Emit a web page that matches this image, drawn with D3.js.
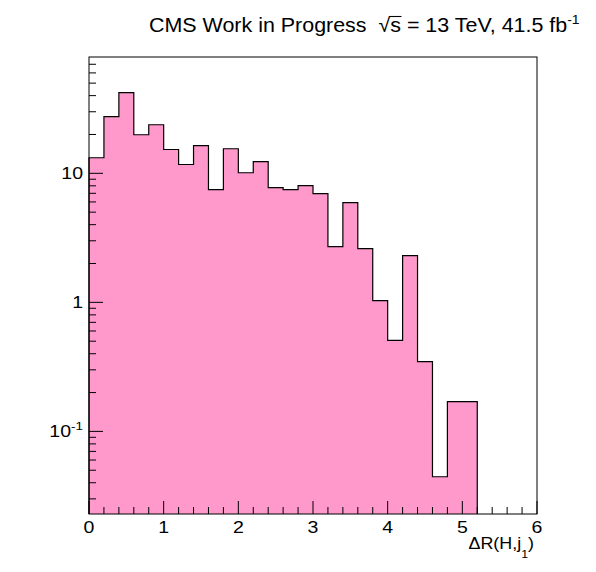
<!DOCTYPE html>
<html>
<head>
<meta charset="utf-8">
<script src="https://cdn.jsdelivr.net/npm/d3@7"></script>
<style>
  html, body { margin: 0; padding: 0; background: #fff; }
  svg { display: block; font-family: "Liberation Sans", Arial, Helvetica, sans-serif; }
  text { white-space: pre; }
</style>
</head>
<body>
<svg id="chart" width="596" height="572"></svg>
<script>
// ---- data ----
const binEdgesStart = 0;
const binWidth = 0.2;
const binCounts = [13.2, 27.5, 42.2, 19.9, 23.8, 15.3, 11.7, 16.4, 7.47, 15.5,
                   10.1, 12.3, 7.75, 7.47, 8.03, 6.96, 2.70, 5.93, 2.61, 1.03,
                   0.507, 2.30, 0.347, 0.0445, 0.170, 0.170, 0, 0, 0, 0];
const xTicks = [0, 1, 2, 3, 4, 5, 6];
const yMajorTicks = [0.1, 1, 10];
const yTickLabels = [["10", "-1"], ["1", null], ["10", null]];
const xDomain = [0, 6];
const yDomain = [0.0229, 79.7];
const titleMain = "CMS Work in Progress  ";
const titleRest = " = 13 TeV, 41.5 fb";
const xTitle = "ΔR(H,j";

// ---- layout ----
const L = 89, R = 537, T = 57, B = 514;
const GLYPH_SX = 1.22;   // reference font is wider than Liberation Sans
const svg = d3.select("#chart");
const x = d3.scaleLinear().domain(xDomain).range([L, R]);
const y = d3.scaleLog().domain(yDomain).range([B, T]);

const bins = binCounts.map((v, i) => ({
  x0: binEdgesStart + i * binWidth,
  x1: binEdgesStart + (i + 1) * binWidth,
  v
}));
const lastFilled = d3.max(bins.filter(b => b.v > 0), b => b.x1);
const yv = v => v > 0 ? Math.min(B, y(v)) : B;

let steps = "";
bins.forEach(b => {
  if (b.x0 >= lastFilled) return;
  steps += `L${x(b.x0)},${yv(b.v)}L${x(b.x1)},${yv(b.v)}`;
});
svg.append("path").attr("d", `M${x(0)},${B}${steps}L${x(lastFilled)},${B}Z`)
  .attr("fill", "#ff99cc").attr("stroke", "none");
svg.append("path").attr("d", `M${x(0)},${B}${steps}L${x(lastFilled)},${B}`)
  .attr("fill", "none").attr("stroke", "#000").attr("stroke-width", 1.2);

// frame
svg.append("rect").attr("x", L).attr("y", T).attr("width", R - L).attr("height", B - T)
  .attr("fill", "none").attr("stroke", "#000").attr("stroke-width", 1);

// helper: text group scaled horizontally about its anchor
function label(px, py, sx) {
  return svg.append("g").attr("transform", `translate(${px},${py}) scale(${sx},1)`)
    .append("text").attr("x", 0).attr("y", 0);
}

// x ticks
const xMinor = d3.range(0, 6.0001, 0.2);
svg.append("g").selectAll("line").data(xMinor).join("line")
  .attr("x1", d => x(d)).attr("x2", d => x(d))
  .attr("y1", B).attr("y2", d => Math.abs(d - Math.round(d)) < 1e-6 ? B - 13 : B - 7)
  .attr("stroke", "#000").attr("stroke-width", 1);
xTicks.forEach(t => {
  label(x(t), 533, GLYPH_SX).attr("text-anchor", "middle").attr("font-size", 16).text(t);
});

// y ticks (log)
const yMinor = [];
for (let e = -2; e <= 1; e++) for (let k = 1; k <= 9; k++) {
  const v = k * Math.pow(10, e);
  if (v >= yDomain[0] && v <= yDomain[1]) yMinor.push({ v, major: k === 1 });
}
svg.append("g").selectAll("line").data(yMinor).join("line")
  .attr("x1", L).attr("x2", d => d.major ? L + 14 : L + 7)
  .attr("y1", d => y(d.v)).attr("y2", d => y(d.v))
  .attr("stroke", "#000").attr("stroke-width", 1);
yMajorTicks.forEach((v, i) => {
  const lab = yTickLabels[i];
  const t = label(83, y(v) + 5.5, GLYPH_SX).attr("text-anchor", "end").attr("font-size", 16);
  t.append("tspan").text(lab[0]);
  if (lab[1]) t.append("tspan").attr("dy", -7).attr("font-size", 11).text(lab[1]);
});

// axis title
const xt = label(534, 549, 1.12).attr("text-anchor", "end").attr("font-size", 16);
xt.append("tspan").text(xTitle);
xt.append("tspan").attr("dy", 9).attr("font-size", 11).text("1");
xt.append("tspan").attr("dy", -9).text(")");

// title
const tg = svg.append("g");
const tt = tg.append("text").attr("x", 0).attr("y", 0).attr("font-size", 20);
tt.append("tspan").text(titleMain);
tt.append("tspan").text("√");
tt.append("tspan").text("s");
tt.append("tspan").text(titleRest);
tt.append("tspan").attr("dy", -8).attr("font-size", 13).text("-1");
const natural = tt.node().getBBox().width;
const tsx = (580 - 149) / natural;
tg.attr("transform", `translate(149,32) scale(${tsx},1)`);
// overline over s (from top of radical to end of s)
const n = tt.node();
const idxRad = titleMain.length;
const rEnd = n.getEndPositionOfChar(idxRad);
const sEnd = n.getEndPositionOfChar(idxRad + 1);
tg.append("line").attr("x1", rEnd.x - 1).attr("x2", sEnd.x + 0.5)
  .attr("y1", -15.5).attr("y2", -15.5).attr("stroke", "#000").attr("stroke-width", 1.1);
</script>
</body>
</html>
